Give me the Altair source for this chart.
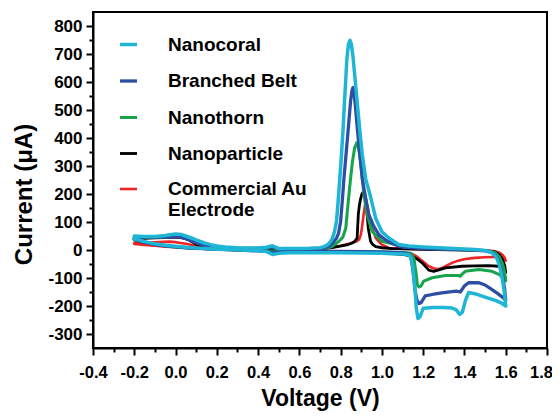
import altair as alt
import pandas as pd

# ---- data (voltage V, current uA), forward then reverse scan ----
nanocoral_fwd = [(-0.2, 40), (-0.15, 30), (-0.1, 22), (-0.05, 17), (0.0, 13), (0.05, 10), (0.1, 7), (0.15, 5),
                 (0.2, 3), (0.3, 1), (0.4, -3), (0.44, -5), (0.47, -16), (0.5, -12), (0.55, -10), (0.6, -10),
                 (0.7, -10), (0.8, -10), (0.9, -11), (1.0, -12), (1.05, -13), (1.1, -14), (1.13, -17),
                 (1.14, -25), (1.15, -60), (1.16, -140), (1.167, -210), (1.175, -245), (1.185, -238),
                 (1.2, -208), (1.25, -205), (1.3, -205), (1.34, -207), (1.36, -214), (1.377, -230),
                 (1.39, -222), (1.405, -180), (1.42, -152), (1.45, -156), (1.5, -168), (1.55, -180),
                 (1.58, -190), (1.6, -200)]
nanocoral_rev = [(1.6, -200), (1.595, -160), (1.585, -110), (1.575, -70), (1.56, -35), (1.55, -20),
                 (1.53, -8), (1.5, -2), (1.45, 2), (1.4, 4), (1.3, 7), (1.2, 11), (1.13, 14), (1.08, 20),
                 (1.034, 43), (1.0, 65), (0.97, 113), (0.945, 190), (0.921, 255), (0.905, 340), (0.892, 433),
                 (0.88, 530), (0.87, 610), (0.86, 690), (0.852, 735), (0.845, 749), (0.838, 735), (0.83, 680),
                 (0.825, 610), (0.818, 520), (0.812, 433), (0.804, 340), (0.796, 255), (0.788, 175),
                 (0.78, 102), (0.77, 65), (0.76, 42), (0.752, 31), (0.74, 20), (0.72, 12), (0.7, 8),
                 (0.65, 6), (0.6, 5), (0.55, 5), (0.5, 5), (0.47, 15), (0.44, 10), (0.4, 7), (0.3, 8),
                 (0.24, 11), (0.2, 14), (0.17, 19), (0.14, 25), (0.11, 33), (0.08, 42), (0.05, 50),
                 (0.03, 55), (0.0, 57), (-0.05, 52), (-0.1, 48), (-0.15, 48), (-0.2, 50), (-0.2, 40)]

branched_fwd = [(-0.2, 38), (-0.15, 28), (-0.1, 20), (-0.05, 15), (0.0, 11), (0.05, 8), (0.1, 6), (0.2, 3),
                (0.3, 0), (0.4, -3), (0.44, -5), (0.47, -10), (0.5, -8), (0.6, -6), (0.7, -5), (0.8, -5),
                (0.9, -6), (1.0, -7), (1.1, -10), (1.13, -13), (1.14, -25), (1.15, -70), (1.16, -140),
                (1.17, -180), (1.18, -191), (1.19, -188), (1.21, -164), (1.25, -158), (1.3, -152),
                (1.36, -147), (1.38, -150), (1.4, -128), (1.42, -117), (1.47, -117), (1.5, -125),
                (1.53, -140), (1.56, -155), (1.59, -172), (1.6, -180)]
branched_rev = [(1.6, -180), (1.595, -140), (1.585, -95), (1.575, -60), (1.56, -30), (1.55, -18),
                (1.53, -8), (1.5, -3), (1.4, 1), (1.3, 3), (1.2, 5), (1.1, 10), (1.066, 19), (1.02, 35),
                (0.986, 54), (0.96, 85), (0.937, 125), (0.92, 190), (0.905, 255), (0.893, 340),
                (0.881, 433), (0.872, 510), (0.865, 560), (0.86, 580), (0.855, 570), (0.848, 530),
                (0.837, 433), (0.826, 340), (0.816, 255), (0.808, 175), (0.8, 102), (0.79, 60),
                (0.78, 42), (0.768, 31), (0.755, 20), (0.744, 13), (0.72, 8), (0.7, 6), (0.6, 4),
                (0.5, 4), (0.47, 10), (0.44, 7), (0.4, 6), (0.3, 7), (0.2, 10), (0.15, 15), (0.1, 25),
                (0.06, 38), (0.03, 46), (0.0, 48), (-0.05, 47), (-0.1, 46), (-0.15, 46), (-0.2, 44),
                (-0.2, 38)]

nanothorn_fwd = [(-0.2, 38), (-0.15, 28), (-0.1, 20), (-0.05, 15), (0.0, 11), (0.05, 8), (0.1, 6), (0.2, 3),
                 (0.3, 0), (0.4, -2), (0.47, -6), (0.5, -5), (0.6, -5), (0.7, -5), (0.8, -5), (0.9, -6),
                 (1.0, -7), (1.1, -9), (1.14, -12), (1.155, -30), (1.165, -80), (1.172, -125), (1.18, -132),
                 (1.19, -128), (1.203, -111), (1.243, -99), (1.308, -91), (1.37, -91), (1.38, -94),
                 (1.39, -85), (1.404, -76), (1.47, -70), (1.533, -76), (1.57, -88), (1.59, -103), (1.6, -110)]
nanothorn_rev = [(1.6, -110), (1.595, -80), (1.585, -50), (1.57, -25), (1.55, -10), (1.52, -4), (1.5, -2),
                 (1.4, 1), (1.3, 3), (1.2, 6), (1.1, 13), (1.0, 31), (0.953, 66), (0.929, 125), (0.913, 196),
                 (0.897, 314), (0.888, 360), (0.878, 383), (0.868, 365), (0.857, 314), (0.848, 255),
                 (0.84, 196), (0.832, 135), (0.825, 78), (0.81, 45), (0.792, 31), (0.76, 13), (0.74, 8),
                 (0.7, 5), (0.6, 4), (0.5, 3), (0.47, 8), (0.44, 6), (0.4, 5), (0.3, 6), (0.2, 10),
                 (0.15, 16), (0.12, 25), (0.08, 38), (0.05, 46), (0.02, 48), (0.0, 48), (-0.05, 46),
                 (-0.1, 45), (-0.15, 45), (-0.2, 44), (-0.2, 38)]

nanoparticle_fwd = [(-0.2, 36), (-0.15, 27), (-0.1, 20), (-0.05, 15), (0.0, 12), (0.05, 9), (0.1, 6),
                    (0.2, 3), (0.3, 1), (0.4, -1), (0.5, -3), (0.6, -3), (0.7, -4), (0.8, -5), (0.9, -7),
                    (1.0, -10), (1.08, -15), (1.115, -17), (1.146, -22), (1.17, -32), (1.195, -46),
                    (1.215, -62), (1.227, -72), (1.251, -76), (1.28, -70), (1.308, -64), (1.388, -58),
                    (1.45, -57), (1.517, -56), (1.565, -58), (1.59, -70), (1.6, -80)]
nanoparticle_rev = [(1.6, -80), (1.595, -55), (1.585, -35), (1.57, -18), (1.55, -8), (1.52, -4), (1.5, -2),
                    (1.4, 0), (1.2, 2), (1.05, 5), (1.0, 8), (0.97, 12), (0.955, 20), (0.945, 31),
                    (0.934, 78), (0.928, 130), (0.924, 172), (0.917, 200), (0.91, 208), (0.903, 200),
                    (0.896, 180), (0.891, 160), (0.886, 130), (0.883, 90), (0.88, 43), (0.87, 32),
                    (0.857, 25), (0.83, 18), (0.792, 13), (0.75, 8), (0.7, 5), (0.6, 3), (0.5, 3),
                    (0.4, 4), (0.3, 5), (0.2, 8), (0.15, 12), (0.1, 20), (0.08, 30), (0.05, 40),
                    (0.02, 45), (0.0, 45), (-0.05, 44), (-0.1, 43), (-0.15, 42), (-0.2, 42), (-0.2, 36)]

commercial_fwd = [(-0.2, 22), (-0.15, 18), (-0.1, 15), (-0.05, 12), (0.0, 10), (0.05, 8), (0.1, 6),
                  (0.2, 3), (0.3, 1), (0.4, 0), (0.5, -2), (0.6, -3), (0.7, -4), (0.8, -6), (0.9, -9),
                  (0.986, -9), (1.05, -9), (1.1, -10), (1.146, -14), (1.17, -24), (1.187, -34),
                  (1.207, -46), (1.227, -58), (1.25, -65), (1.267, -68), (1.285, -66), (1.3, -61),
                  (1.32, -53), (1.34, -46), (1.37, -38), (1.404, -32), (1.45, -28), (1.5, -26),
                  (1.557, -24), (1.59, -30), (1.6, -38)]
commercial_rev = [(1.6, -38), (1.595, -28), (1.585, -18), (1.57, -10), (1.55, -5), (1.5, -1), (1.4, 1),
                  (1.2, 3), (1.1, 5), (1.034, 7), (1.0, 19), (0.985, 30), (0.97, 43), (0.953, 78),
                  (0.937, 125), (0.93, 155), (0.924, 170), (0.918, 160), (0.912, 130), (0.905, 90),
                  (0.898, 55), (0.89, 38), (0.878, 31), (0.86, 28), (0.84, 22), (0.8, 15), (0.75, 8),
                  (0.7, 5), (0.6, 3), (0.5, 2), (0.4, 3), (0.3, 4), (0.2, 7), (0.15, 10), (0.1, 15),
                  (0.05, 22), (0.0, 28), (-0.03, 30), (-0.08, 28), (-0.15, 26), (-0.2, 25), (-0.2, 22)]

series_names = ["Nanocoral", "Branched Belt", "Nanothorn", "Nanoparticle", "Commercial Au Electrode"]
series_colors = ["#1fb5d5", "#2e4ea6", "#16a54b", "#000000", "#ee2326"]
series_widths = [3.5, 2.6, 2.6, 2.6, 2.6]

x_ticks = [round(-0.4 + 0.1 * k, 1) for k in range(23)]
y_ticks = [-300 + 50 * k for k in range(23)]

# drawing order: red first, cyan last (on top)
curves = [
    ("Commercial Au Electrode", commercial_fwd + commercial_rev),
    ("Nanoparticle", nanoparticle_fwd + nanoparticle_rev),
    ("Nanothorn", nanothorn_fwd + nanothorn_rev),
    ("Branched Belt", branched_fwd + branched_rev),
    ("Nanocoral", nanocoral_fwd + nanocoral_rev),
]
rows = []
for name, pts in curves:
    for i, (v, c) in enumerate(pts):
        rows.append({"series": name, "width_key": name, "idx": i, "V": v, "I": c})
df = pd.DataFrame(rows)

FONT = "Liberation Sans"

x_axis = alt.Axis(
    values=x_ticks,
    labelExpr="abs(round(datum.value*10)) % 2 == 0 ? (datum.value < -0.001 ? '-' : '') + format(abs(datum.value), '.1f') : ''",
    tickSize=alt.condition("abs(round(datum.value*10)) % 2 == 0", alt.value(7), alt.value(4)),
    labelOffset=alt.condition("datum.value > 1.75", alt.value(-6), alt.value(0)),
    labelPadding=9, labelFontSize=16.5, labelFont=FONT, labelFontWeight="bold", labelColor="black",
    title="Voltage (V)", titleFontSize=23, titleFont=FONT, titleFontWeight="bold", titleColor="black",
    titleBaseline="alphabetic", titleX=227, titleY=57, titleAnchor="middle",
    grid=False, labelFlush=False, labelOverlap=False,
)
y_axis = alt.Axis(
    values=y_ticks,
    labelExpr="datum.value % 100 == 0 ? (datum.value < 0 ? '-' : '') + format(abs(datum.value), 'd') : ''",
    tickSize=alt.condition("datum.value % 100 == 0", alt.value(7), alt.value(4)),
    labelPadding=4, labelFontSize=17, labelFont=FONT, labelFontWeight="bold", labelColor="black",
    title="Current (μA)", titleFontSize=24, titleFont=FONT, titleFontWeight="bold", titleColor="black",
    titleAngle=-90, titleBaseline="alphabetic", titleX=-62, titleY=182, titleAlign="center",
    grid=False, labelFlush=False, labelOverlap=False,
)

legend = alt.Legend(
    orient="none", legendX=25, legendY=22, title=None, padding=0,
    symbolType="stroke", symbolSize=289, symbolStrokeWidth=4.5,
    labelFontSize=19, labelFont=FONT, labelFontWeight="bold", labelColor="black",
    labelOffset=29, rowPadding=15.5, labelLimit=400,
    labelExpr="datum.label == 'Commercial Au Electrode' ? ['Commercial Au', 'Electrode'] : datum.label",
)

chart = alt.Chart(df).mark_line(strokeJoin="round", strokeCap="round").encode(
    x=alt.X("V:Q", scale=alt.Scale(domain=[-0.4, 1.8], nice=False, zero=False), axis=x_axis),
    y=alt.Y("I:Q", scale=alt.Scale(domain=[-350, 850], nice=False, zero=False), axis=y_axis),
    color=alt.Color("series:N", scale=alt.Scale(domain=series_names, range=series_colors), legend=legend),
    strokeWidth=alt.StrokeWidth("width_key:N", scale=alt.Scale(domain=series_names, range=series_widths), legend=None),
    order=alt.Order("idx:Q"),
).properties(
    width=454, height=336,
    autosize=alt.AutoSizeParams(type="none"),
    padding={"left": 85, "top": 4, "right": 5, "bottom": 63},
).configure_view(
    stroke="black", strokeWidth=2
).configure_axis(
    domainColor="black", domainWidth=2, tickColor="black", tickWidth=2
)

chart.save("out.html", embed_options={"renderer": "svg", "actions": False})
